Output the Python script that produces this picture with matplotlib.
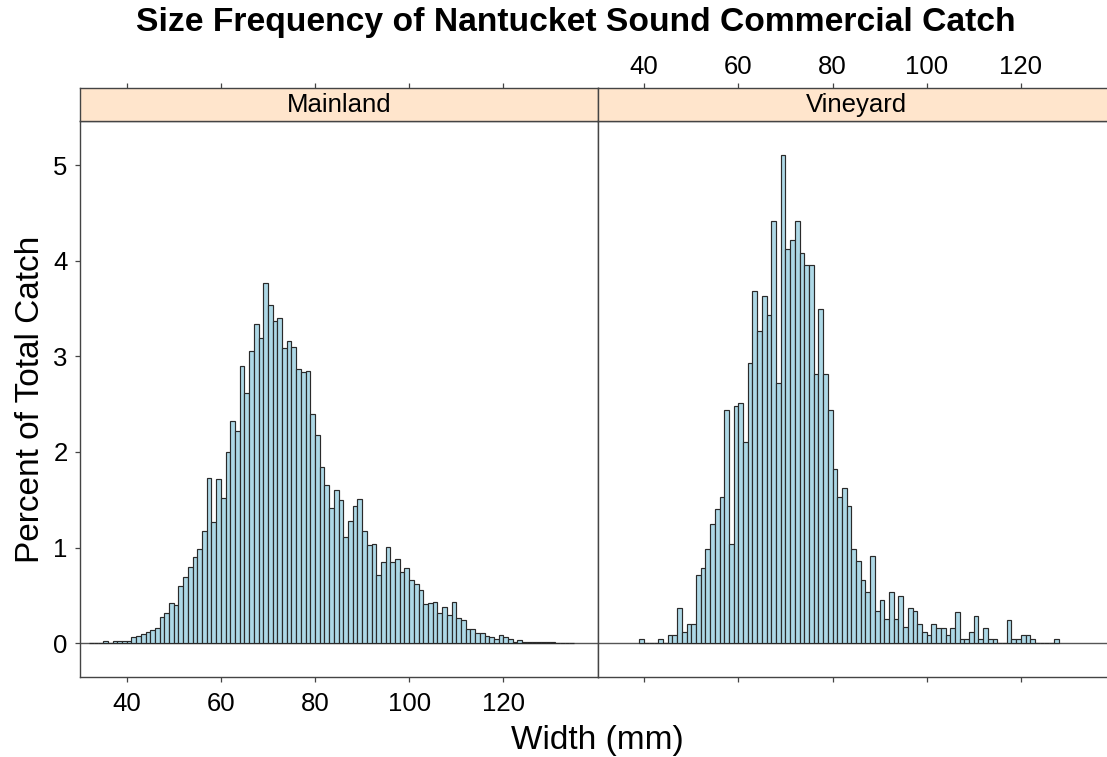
import matplotlib
matplotlib.use('Agg')
import matplotlib.pyplot as plt

plt.rcParams['font.family'] = ['Liberation Sans', 'DejaVu Sans']

# ---------------- data ----------------
title = "Size Frequency of Nantucket Sound Commercial Catch"
panel_names = ["Mainland", "Vineyard"]
x_label = "Width (mm)"
y_label = "Percent of Total Catch"
x_ticks = [40, 60, 80, 100, 120]
y_ticks = [0, 1, 2, 3, 4, 5]

# left edge of each 1-mm bin
mainland_bins = list(range(32, 135))
mainland_pct = [
    0.005, 0.005, 0.005, 0.025, 0.005, 0.018, 0.025, 0.025, 0.025,          # 32-40
    0.063, 0.077, 0.091, 0.115, 0.139, 0.160, 0.272, 0.314, 0.418, 0.394,    # 41-50
    0.599, 0.697, 0.801, 0.900, 0.983, 1.178, 1.726, 1.272, 1.719, 1.517,    # 51-60
    1.994, 2.328, 2.221, 2.893, 2.615, 3.050, 3.337, 3.190, 3.766, 3.539,    # 61-70
    3.371, 3.395, 3.086, 3.159, 3.092, 2.869, 2.835, 2.848, 2.395, 2.179,    # 71-80
    1.847, 1.656, 1.412, 1.604, 1.499, 1.115, 1.282, 1.436, 1.509, 1.175,    # 81-90
    1.025, 1.036, 0.714, 0.847, 1.010, 0.847, 0.885, 0.743, 0.785, 0.662,    # 91-100
    0.617, 0.557, 0.408, 0.418, 0.435, 0.314, 0.374, 0.296, 0.429, 0.268,    # 101-110
    0.244, 0.150, 0.150, 0.107, 0.105, 0.076, 0.069, 0.042, 0.087, 0.069,    # 111-120
    0.042, 0.017, 0.035, 0.017, 0.017, 0.008, 0.008, 0.008, 0.008, 0.008,    # 121-130
    0.000, 0.005, 0.005, 0.005,                                              # 131-134
]

vineyard_bins = list(range(39, 128))
vineyard_pct = [
    0.045, 0.000, 0.000, 0.000, 0.045, 0.000, 0.087,                         # 39-45
    0.087, 0.372, 0.121, 0.199, 0.199,                                       # 46-50
    0.714, 0.791, 0.986, 1.245, 1.402, 1.527, 2.433, 1.036, 2.475, 2.510,    # 51-60
    2.103, 2.929, 3.678, 3.267, 3.626, 3.427, 4.417, 2.720, 5.108, 4.121,    # 61-70
    4.219, 4.417, 4.079, 3.957, 3.957, 2.814, 3.497, 2.814, 2.433, 1.823,    # 71-80
    1.527, 1.621, 1.439, 0.983, 0.861, 0.662, 0.540, 0.913, 0.338, 0.453,    # 81-90
    0.251, 0.537, 0.251, 0.495, 0.167, 0.372, 0.338, 0.199, 0.121, 0.087,    # 91-100
    0.199, 0.163, 0.163, 0.087, 0.163, 0.331, 0.045, 0.045, 0.121, 0.289,    # 101-110
    0.045, 0.163, 0.045, 0.045, 0.000, 0.000, 0.244, 0.045, 0.045, 0.087,    # 111-120
    0.087, 0.045, 0.000, 0.000, 0.000, 0.000, 0.045,                         # 121-127
]

# ---------------- layout ----------------
W, H = 1107, 757
fig = plt.figure(figsize=(W / 100, H / 100), dpi=100)

def fx(px):
    return px / W

def fy(py):
    return 1 - py / H

PANEL_L = 80.0
PANEL_W = 517.5
PANEL_TOP = 121.3
PANEL_BOT = 677.3
STRIP_TOP = 87.5
XLIM = (30.08, 140.0)
YLIM = (-0.357, 5.457)

BAR_FILL = '#ADD8E6'
BAR_EDGE = '#2a2a2a'
FRAME = '#444444'
STRIP_FILL = '#FFE5CC'
FS = 18.5
TICK_LEN = 3.8

series = [(mainland_bins, mainland_pct), (vineyard_bins, vineyard_pct)]

for i, (bins, pct) in enumerate(series):
    left = PANEL_L + i * PANEL_W
    ax = fig.add_axes([fx(left), fy(PANEL_BOT), PANEL_W / W, (PANEL_BOT - PANEL_TOP) / H])
    ax.axhline(0, color='#555555', lw=1.0, zorder=1)
    ax.bar(bins, pct, width=1.0, align='edge', color=BAR_FILL,
           edgecolor=BAR_EDGE, linewidth=0.85, zorder=2)
    ax.set_xlim(*XLIM)
    ax.set_ylim(*YLIM)
    for s in ax.spines.values():
        s.set_color(FRAME)
        s.set_linewidth(1.0)
    ax.set_xticks(x_ticks)
    ax.set_yticks(y_ticks)
    ax.tick_params(axis='both', direction='out', length=TICK_LEN, width=0.9,
                   color=FRAME, labelsize=FS)
    ax.tick_params(axis='x', pad=6.5)
    ax.tick_params(axis='y', pad=5)
    if i == 0:
        ax.tick_params(axis='y', left=True, right=False, labelleft=True)
        ax.tick_params(axis='x', bottom=True, labelbottom=True)
    else:
        ax.tick_params(axis='y', left=False, right=True, labelleft=False, labelright=False)
        ax.tick_params(axis='x', bottom=True, labelbottom=False)

    sax = fig.add_axes([fx(left), fy(PANEL_TOP), PANEL_W / W, (PANEL_TOP - STRIP_TOP) / H])
    sax.set_facecolor(STRIP_FILL)
    sax.set_xlim(*XLIM)
    sax.set_ylim(0, 1)
    sax.set_yticks([])
    sax.xaxis.tick_top()
    sax.set_xticks(x_ticks)
    sax.tick_params(axis='x', direction='out', length=TICK_LEN, width=0.9,
                    color=FRAME, labelsize=FS, pad=2.5)
    if i == 0:
        sax.set_xticklabels([])
    for s in sax.spines.values():
        s.set_color(FRAME)
        s.set_linewidth(1.0)
    sax.text(0.5, 0.47, panel_names[i], transform=sax.transAxes,
             ha='center', va='center', fontsize=FS)

fig.text(fx(575.5), fy(23), title, ha='center', va='center',
         fontsize=24.2, fontweight='bold')
fig.text(fx(597.5), fy(740), x_label, ha='center', va='center', fontsize=24)
fig.text(fx(31), fy(399.3), y_label, ha='center', va='center',
         fontsize=24, rotation=90)

fig.savefig('out.png', dpi=100)
